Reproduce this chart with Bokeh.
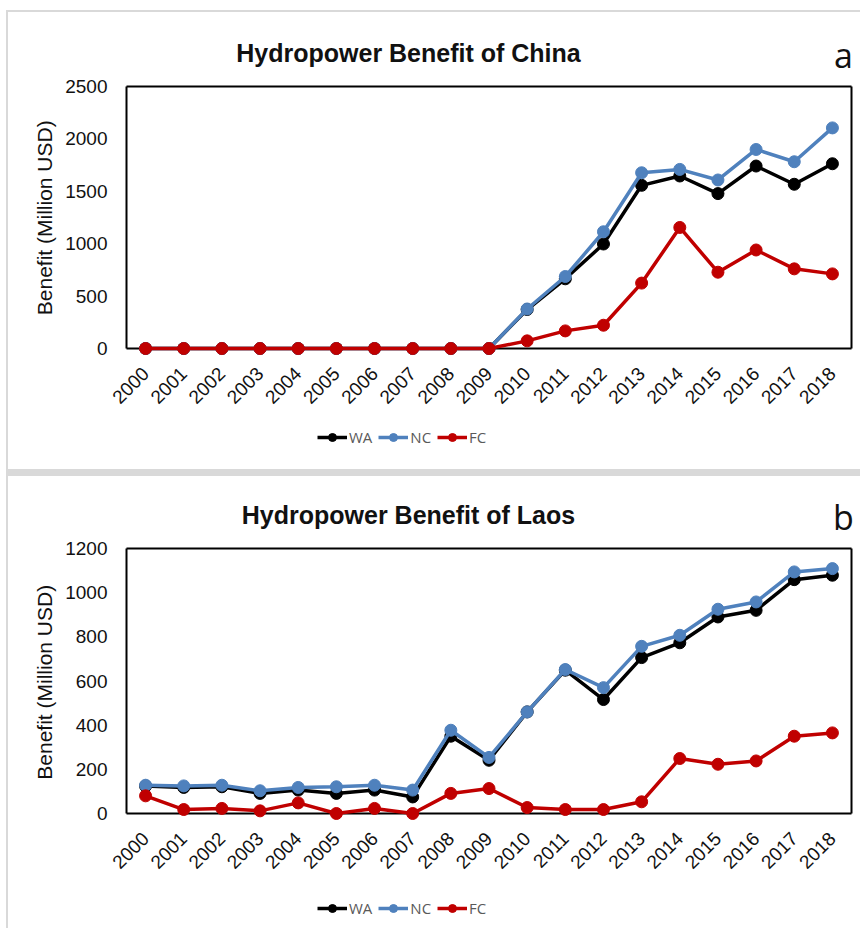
import numpy as np
from bokeh.plotting import figure
from bokeh.layouts import column
from bokeh.models import Range1d, FixedTicker, Legend, LegendItem, Label
from bokeh.embed import file_html
from bokeh.resources import INLINE

# Years on the horizontal axis
years = [2000, 2001, 2002, 2003, 2004, 2005, 2006, 2007, 2008, 2009,
         2010, 2011, 2012, 2013, 2014, 2015, 2016, 2017, 2018]

# Hydropower benefit of China (million USD)
china_wa = [0, 0, 0, 0, 0, 0, 0, 0, 0, 0,
            372, 665, 997, 1557, 1646, 1478, 1741, 1567, 1763]
china_nc = [0, 0, 0, 0, 0, 0, 0, 0, 0, 0,
            377, 687, 1114, 1677, 1709, 1608, 1899, 1782, 2105]
china_fc = [0, 0, 0, 0, 0, 0, 0, 0, 0, 0,
            73, 168, 222, 624, 1155, 728, 940, 760, 712]

# Hydropower benefit of Laos (million USD)
laos_wa = [124, 118, 121, 91, 106, 91, 106, 75, 350, 241,
           460, 649, 516, 706, 773, 890, 920, 1059, 1079]
laos_nc = [128, 125, 128, 103, 118, 121, 128, 106, 377, 254,
           460, 652, 570, 757, 807, 925, 958, 1094, 1109]
laos_fc = [80, 18, 23, 12, 48, 0, 23, 0, 91, 113,
           27, 18, 18, 53, 249, 223, 238, 350, 365]

series_names = ["WA", "NC", "FC"]
series_colors = ["#000000", "#4F81BD", "#C00000"]

FONT = "Liberation Sans"
INK = "#111111"

FIG_W = 852
BOX_LEFT = 118          # plot box left edge inside the figure
BOX_W = 725             # plot box width
X_LO = years[0] - 0.5
X_HI = years[-1] + 0.5
PPX = BOX_W / (X_HI - X_LO)   # pixels per year
X_RANGE = (X_LO - 2 / PPX, X_HI + (FIG_W - BOX_LEFT - BOX_W) / PPX)


def make_chart(title, letter, wa, nc, fc, ymax, ystep, height, box_top, box_h):
    ppu = box_h / ymax                       # pixels per data unit
    frame_top = 14                           # frame also holds the heading
    head_px = box_top - frame_top
    y_lo = -8 / ppu                          # room under zero for the markers
    y_hi = ymax + head_px / ppu
    frame_bottom = box_top + box_h + 8

    p = figure(width=FIG_W, height=height,
               x_range=Range1d(*X_RANGE), y_range=Range1d(y_lo, y_hi),
               output_backend="svg", toolbar_location=None,
               min_border_left=BOX_LEFT - 2, min_border_right=0,
               min_border_top=frame_top,
               min_border_bottom=height - frame_bottom,
               outline_line_color=None,
               background_fill_color="white", border_fill_color="white")
    p.grid.visible = False

    # plot box from 0 to the axis maximum
    p.segment(x0=[X_LO, X_LO, X_LO, X_HI], y0=[0, ymax, 0, 0],
              x1=[X_HI, X_HI, X_LO, X_HI], y1=[0, ymax, ymax, ymax],
              line_color="black", line_width=2)

    for color, vals in zip(series_colors, [wa, nc, fc]):
        p.line(years, vals, line_color=color, line_width=3.5)
        p.scatter(years, vals, size=12, fill_color=color, line_color=color)

    # x axis: rotated year labels
    p.xaxis.ticker = FixedTicker(ticks=years)
    p.xaxis.major_label_overrides = {y: str(y) for y in years}
    p.xaxis.major_label_orientation = np.pi / 4
    p.xaxis.major_label_standoff = 8
    p.xaxis.axis_line_color = None
    p.xaxis.major_tick_line_color = None
    p.xaxis.minor_tick_line_color = None
    p.xaxis.major_label_text_font = FONT
    p.xaxis.major_label_text_font_size = "19px"
    p.xaxis.major_label_text_color = INK

    # y axis (label padded so it sits centred on the plot box)
    p.yaxis.ticker = FixedTicker(ticks=list(range(0, ymax + 1, ystep)))
    p.yaxis.axis_line_color = None
    p.yaxis.major_tick_line_color = None
    p.yaxis.minor_tick_line_color = None
    p.yaxis.major_label_standoff = 11
    p.yaxis.major_label_text_font = FONT
    p.yaxis.major_label_text_font_size = "19px"
    p.yaxis.major_label_text_color = INK
    p.yaxis.axis_label = "Benefit (Million USD)" + "\u00a0" * 9
    p.yaxis.axis_label_standoff = 6
    p.yaxis.axis_label_text_font = FONT
    p.yaxis.axis_label_text_font_size = "21px"
    p.yaxis.axis_label_text_font_style = "normal"
    p.yaxis.axis_label_text_color = INK

    # chart title and panel letter
    p.add_layout(Label(x=X_LO + 282 / PPX, y=ymax + 34 / ppu, text=title,
                       text_align="center", text_baseline="middle",
                       text_font=FONT, text_font_size="25px",
                       text_font_style="bold", text_color=INK))
    p.add_layout(Label(x=X_LO + 717 / PPX, y=ymax + 32 / ppu, text=letter,
                       text_align="center", text_baseline="middle",
                       text_font="Open Sans", text_font_size="34px",
                       text_color=INK))
    p.styles = {"background-color": "white"}
    return p


def make_legend_strip(height, legend_bottom, wa, nc, fc, ymax):
    # series drawn here only to key the legend; the y range keeps them out of view
    f = figure(width=FIG_W, height=height,
               x_range=Range1d(*X_RANGE), y_range=Range1d(-3 * ymax, -2 * ymax),
               output_backend="svg", toolbar_location=None,
               min_border=0, outline_line_color=None,
               x_axis_location=None, y_axis_location=None,
               background_fill_color="white", border_fill_color="white")
    f.grid.visible = False
    items = []
    for name, color, vals in zip(series_names, series_colors, [wa, nc, fc]):
        r_line = f.line(years, vals, line_color=color, line_width=3.5)
        r_pt = f.scatter(years, vals, size=11, fill_color=color, line_color=color)
        items.append(LegendItem(label=name, renderers=[r_line, r_pt]))
    legend = Legend(items=items, location=(193, legend_bottom),
                    orientation="horizontal",
                    glyph_width=30, glyph_height=20, label_standoff=2,
                    spacing=6, padding=5, margin=0,
                    label_text_font="Open Sans", label_text_font_size="15px",
                    label_text_color="#595959",
                    border_line_color=None, background_fill_alpha=0)
    f.add_layout(legend)
    f.styles = {"background-color": "white"}
    return f


pa = make_chart("Hydropower Benefit of China", "a",
                china_wa, china_nc, china_fc, 2500, 500, 405, 74, 262)
la = make_legend_strip(52, 22, china_wa, china_nc, china_fc, 2500)
pb = make_chart("Hydropower Benefit of Laos", "b",
                laos_wa, laos_nc, laos_fc, 1200, 200, 405, 72, 265)
lb = make_legend_strip(47, 10, laos_wa, laos_nc, laos_fc, 1200)

pa.margin = (2, 0, 0, 2)
la.margin = (0, 0, 0, 2)
pb.margin = (7, 0, 0, 2)
lb.margin = (0, 0, 0, 2)

page = column(pa, la, pb, lb, spacing=0, margin=(10, 0, 0, 6),
              styles={"background-color": "#d9d9d9"})

open("out.html", "w").write(file_html(page, INLINE))
